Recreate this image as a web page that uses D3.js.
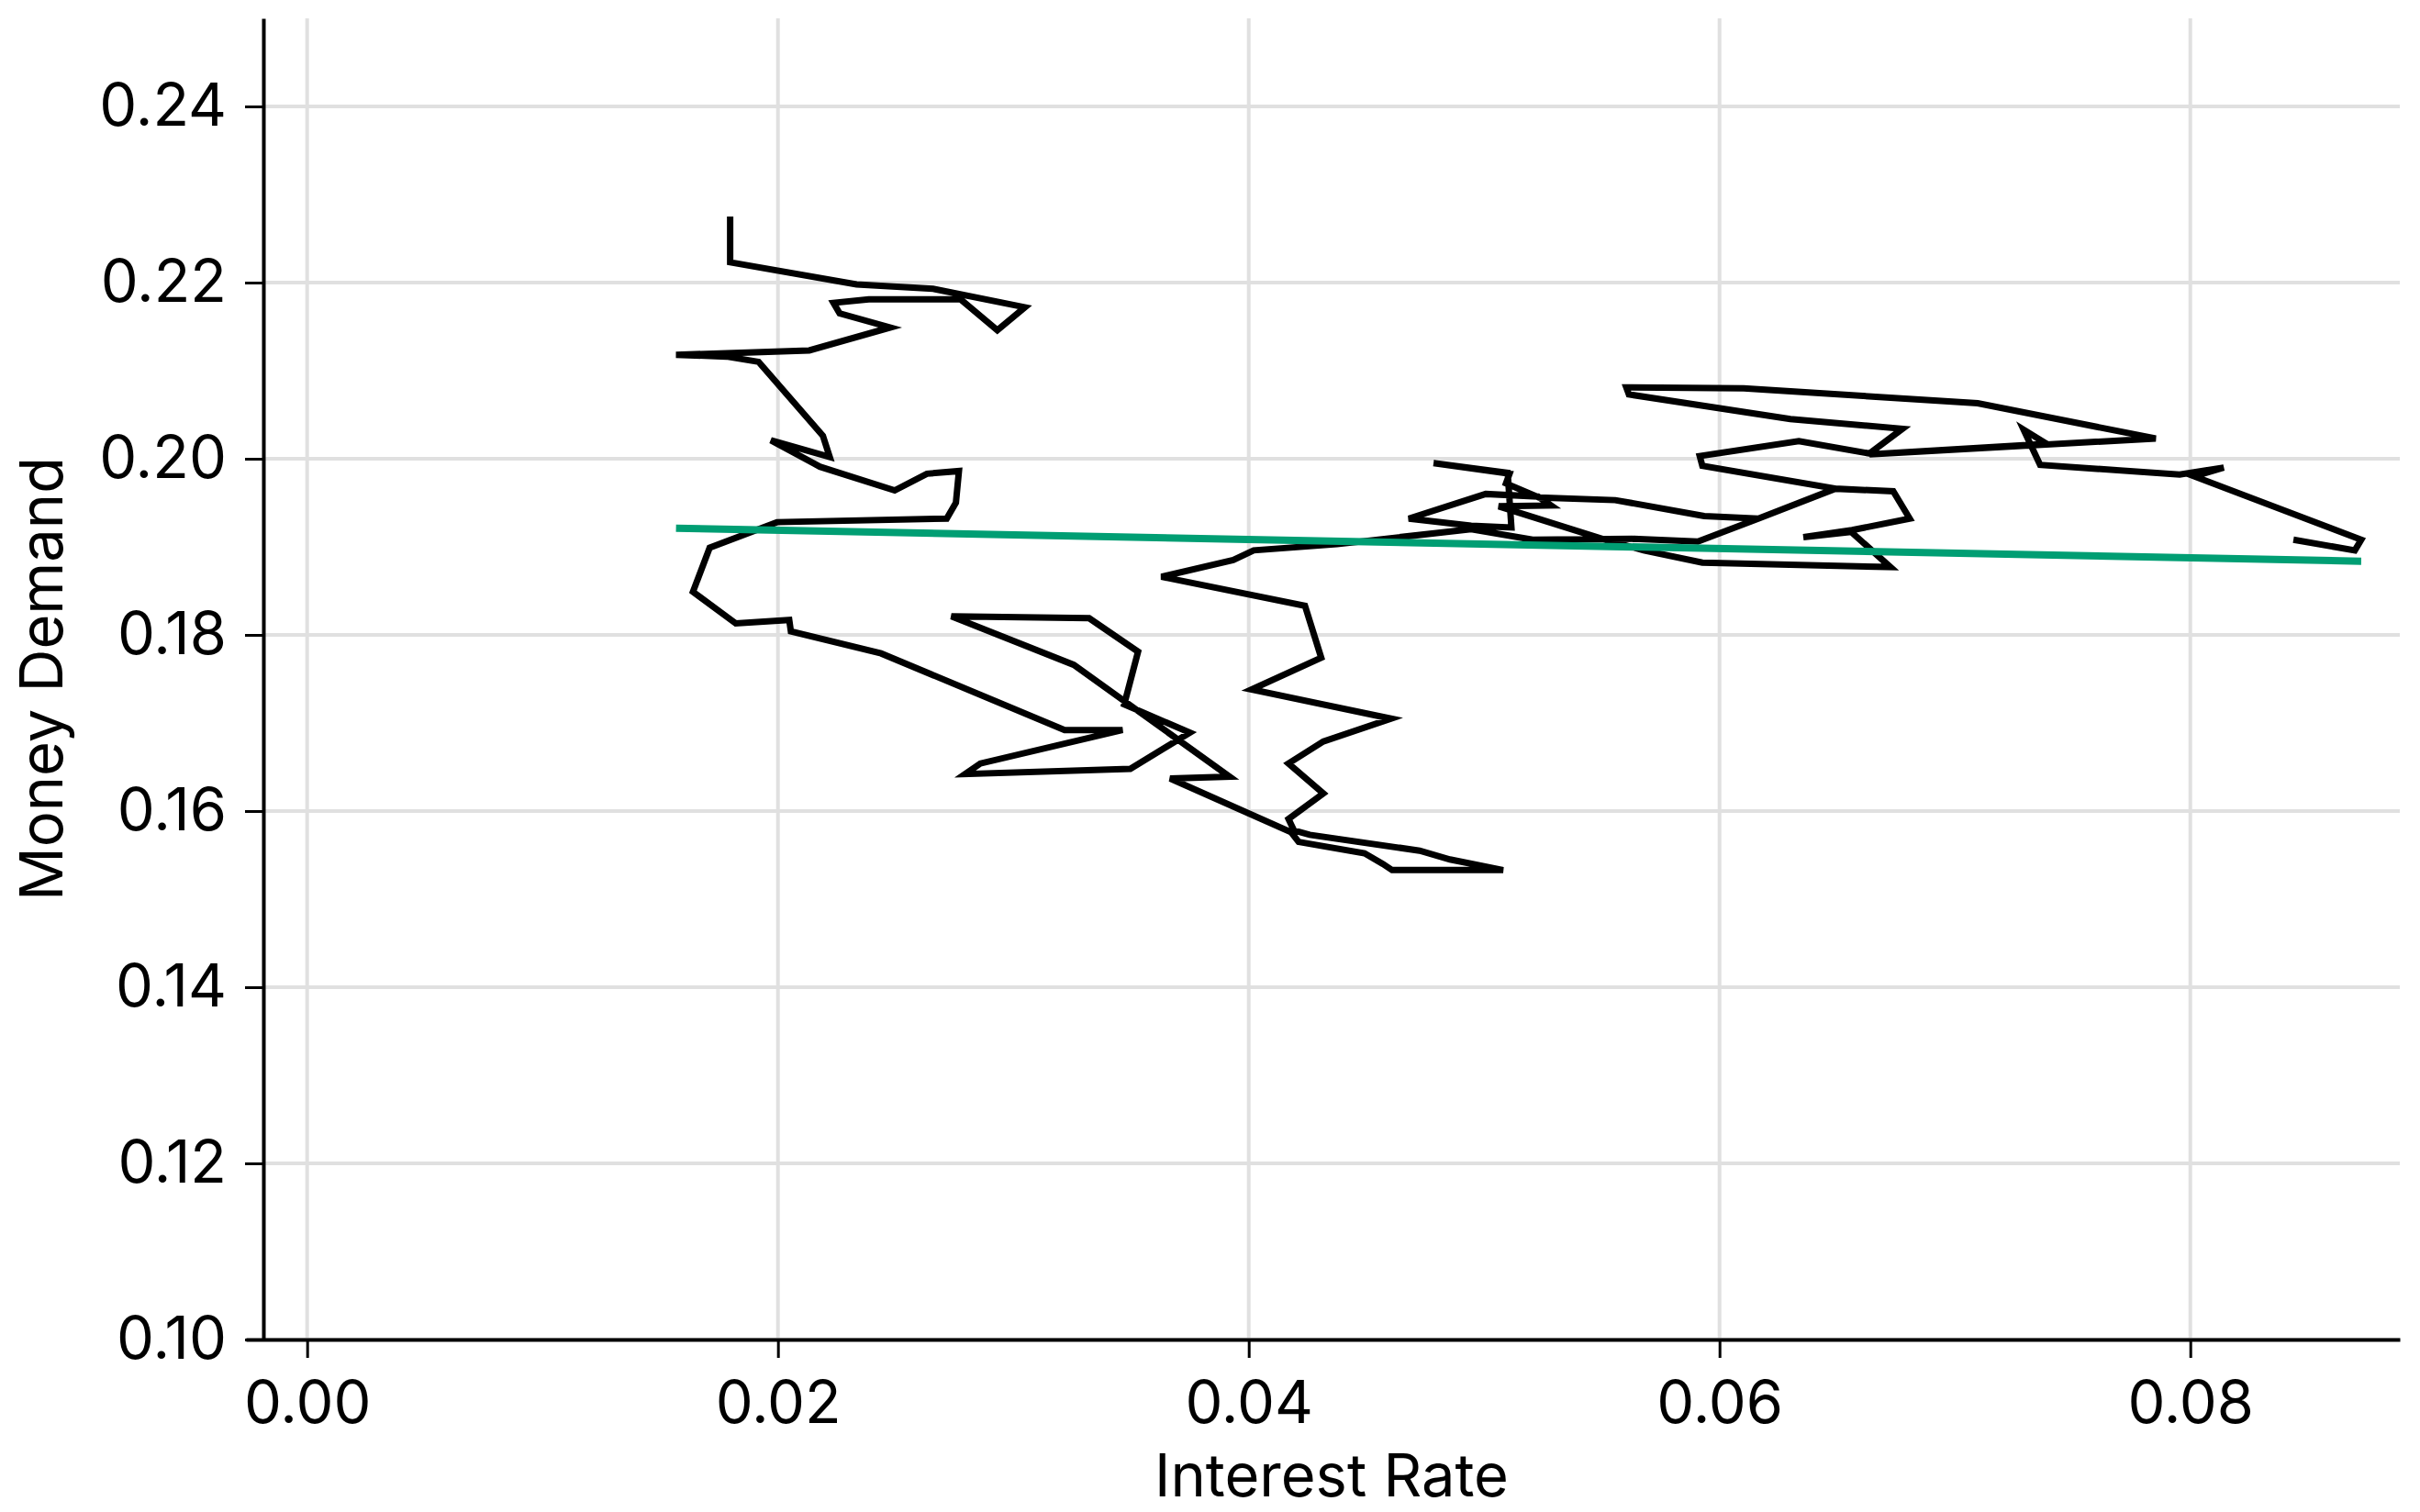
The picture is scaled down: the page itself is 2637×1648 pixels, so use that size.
<!DOCTYPE html>
<html>
<head>
<meta charset="utf-8">
<script src="https://cdn.jsdelivr.net/npm/d3@7"></script>
<style>
  html, body { margin: 0; padding: 0; background: #ffffff; }
  svg { display: block; }
  text { font-family: "Inter", "Liberation Sans", sans-serif; fill: #000; }
</style>
</head>
<body>
<svg id="chart" width="2637" height="1648"></svg>
<script>
// ---- data ----
const interestRate = [
  0.01797,0.01797,0.02334,0.02659,0.03049,0.02932,0.02776,0.02386,0.02236,0.02262,
  0.02477,0.02133,0.01567,0.01782,0.01918,0.02191,0.02220,0.01970,0.02178,0.02496,
  0.02633,0.02769,0.02756,0.02717,0.01996,0.01710,0.01639,0.01821,0.02048,0.02055,
  0.02438,0.03218,0.03464,0.02860,0.02795,0.03497,0.03750,0.03471,0.03530,0.03322,
  0.02737,0.03257,0.03919,0.03666,0.04180,
  0.04212,0.04492,0.04570,0.04609,0.05081,0.04855,0.04726,0.04259,0.04192,
  0.04169,0.04317,0.04169,0.04317,0.04604,0.04012,0.04308,0.04239,0.03629,0.03934,0.04021,
  0.04375,0.04945,0.05206,0.05635,0.05908,0.06165,0.06492,0.06738,0.06808,0.06563,
  0.06356,0.06559,0.06726,0.05927,0.05678,0.05502,0.05062,0.05284,0.05229,0.05007,
  0.04680,0.04945,0.05116,0.05100,0.04785,0.05108,0.05093,0.05233,0.05557,0.05935,
  0.06165,0.06492,0.05927,0.05916,0.06337,0.06637,0.06777,0.06301,0.05615,0.05604,
  0.06103,0.07097,0.07853,0.06637,0.07389,0.07292,0.07362,0.07955,0.08142,0.08017,
  0.08726,0.08699,0.08438
];
const moneyDemand = [
  0.2275,0.2223,0.2198,0.2193,0.2172,0.2146,0.2181,0.2181,0.2177,0.2165,
  0.2149,0.2123,0.2118,0.2116,0.2110,0.2026,0.2002,0.2021,0.1991,0.1964,
  0.1983,0.1986,0.1950,0.1932,0.1928,0.1899,0.1849,0.1813,0.1817,0.1804,
  0.1779,0.1692,0.1692,0.1654,0.1642,0.1648,0.1689,0.1721,0.1781,0.1819,
  0.1821,0.1766,0.1639,0.1637,0.1576,
  0.1565,0.1552,0.1540,0.1533,0.1533,0.1545,0.1555,0.1573,0.1578,
  0.1591,0.1620,0.1654,0.1679,0.1705,0.1738,0.1774,0.1833,0.1866,0.1885,0.1896,
  0.1903,0.1920,0.1908,0.1909,0.1906,0.1932,0.1966,0.1963,0.1932,0.1919,
  0.1911,0.1917,0.1877,0.1882,0.1896,0.1909,0.1946,0.1947,0.1957,0.1960,
  0.1932,0.1924,0.1922,0.1984,0.1995,0.1983,0.1972,0.1956,0.1953,0.1935,
  0.1932,0.1966,0.1992,0.2003,0.2020,0.2006,0.2034,0.2045,0.2073,0.2081,
  0.2080,0.2063,0.2023,0.2005,0.2017,0.2033,0.1993,0.1982,0.1990,0.1980,
  0.1908,0.1896,0.1908
];
// fitted regression line: moneyDemand = fitIntercept + fitSlope * interestRate
const fitIntercept = 0.19293;
const fitSlope = -0.05226;

const xTicks = [0.00, 0.02, 0.04, 0.06, 0.08];
const yTicks = [0.10, 0.12, 0.14, 0.16, 0.18, 0.20, 0.22, 0.24];
const xDomain = [-0.0026, 0.0889];
const yDomain = [0.10, 0.25];
const xLabel = "Interest Rate";
const yLabel = "Money Demand";

(function () {
  // ---- layout ----
  const plotLeft = 268, plotRight = 2615, plotTop = 20, plotBottom = 1460, yAxisX = 287;
  const fontSize = 65;

  const svg = d3.select("#chart");
  const x = d3.scaleLinear().domain(xDomain).range([plotLeft, plotRight]);
  const y = d3.scaleLinear().domain(yDomain).range([plotBottom, plotTop]);

  // grid
  const grid = svg.append("g").attr("stroke", "#e0e0e0").attr("stroke-width", 4);
  grid.selectAll("line.v").data(xTicks).join("line").attr("class", "v")
    .attr("x1", d => x(d)).attr("x2", d => x(d))
    .attr("y1", plotTop).attr("y2", plotBottom);
  grid.selectAll("line.h").data(yTicks).join("line").attr("class", "h")
    .attr("x1", yAxisX).attr("x2", plotRight)
    .attr("y1", d => y(d)).attr("y2", d => y(d));

  // data path
  const pts = interestRate.map((v, i) => [v, moneyDemand[i]]);
  const line = d3.line().x(d => x(d[0])).y(d => y(d[1]));
  svg.append("path").datum(pts)
    .attr("d", line)
    .attr("fill", "none")
    .attr("stroke", "#000")
    .attr("stroke-width", 7)
    .attr("stroke-linejoin", "miter")
    .attr("stroke-miterlimit", 4);

  // fit line
  const xMin = d3.min(interestRate), xMax = d3.max(interestRate);
  const fitPts = [[xMin, fitIntercept + fitSlope * xMin], [xMax, fitIntercept + fitSlope * xMax]];
  svg.append("path").datum(fitPts)
    .attr("d", line)
    .attr("fill", "none")
    .attr("stroke", "#009E73")
    .attr("stroke-width", 8);

  // axes
  const xAxis = d3.axisBottom(x).tickValues(xTicks).tickFormat(d3.format(".2f"))
    .tickSize(20).tickSizeOuter(0).tickPadding(25);
  const gx = svg.append("g").attr("transform", `translate(0,${plotBottom})`).call(xAxis);
  gx.select(".domain").attr("stroke", "#000").attr("stroke-width", 4);
  gx.selectAll(".tick line").attr("stroke", "#000").attr("stroke-width", 3);
  gx.selectAll(".tick text").attr("font-size", fontSize).attr("font-family", "Inter, sans-serif").attr("fill", "#000");

  const yAxis = d3.axisLeft(y).tickValues(yTicks).tickFormat(d3.format(".2f"))
    .tickSize(20).tickSizeOuter(0).tickPadding(20);
  const gy = svg.append("g").attr("transform", `translate(${yAxisX},0)`).call(yAxis);
  gy.select(".domain").attr("stroke", "#000").attr("stroke-width", 4);
  gy.selectAll(".tick line").attr("stroke", "#000").attr("stroke-width", 3);
  gy.selectAll(".tick text").attr("font-size", fontSize).attr("font-family", "Inter, sans-serif").attr("fill", "#000");

  // axis titles
  svg.append("text")
    .attr("x", (yAxisX + plotRight) / 2).attr("y", 1631)
    .attr("text-anchor", "middle").attr("font-size", fontSize)
    .text(xLabel);
  svg.append("text")
    .attr("transform", `translate(68,${(plotTop + plotBottom) / 2}) rotate(-90)`)
    .attr("text-anchor", "middle").attr("font-size", fontSize)
    .text(yLabel);
})();
</script>
</body>
</html>
